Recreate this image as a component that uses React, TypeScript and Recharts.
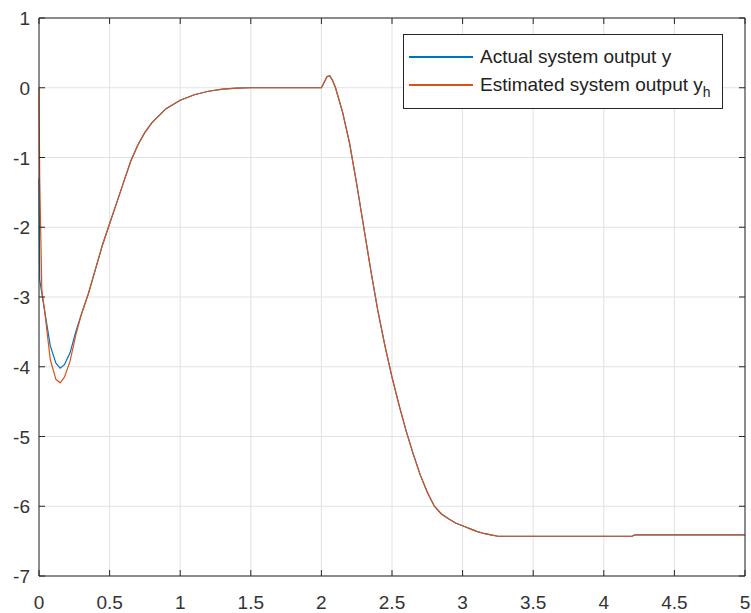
import { LineChart, Line, XAxis, YAxis, CartesianGrid } from "recharts";

const time = [
  0, 0.005, 0.02, 0.04, 0.08, 0.12, 0.15, 0.18, 0.22, 0.26, 0.3, 0.35, 0.4, 0.45, 0.5, 0.55, 0.6, 0.65, 0.7, 0.75,
  0.8, 0.9, 1.0, 1.1, 1.2, 1.3, 1.4, 1.5, 2.0, 2.02, 2.04, 2.06, 2.08, 2.1, 2.15, 2.2, 2.25, 2.3, 2.35, 2.4, 2.45,
  2.5, 2.55, 2.6, 2.65, 2.7, 2.75, 2.8, 2.85, 2.9, 2.95, 3.0, 3.05, 3.1, 3.15, 3.2, 3.25, 4.2, 4.22, 5.0,
];

const actual = [
  -1.3, -2.75, -2.95, -3.2, -3.7, -3.95, -4.02, -3.97, -3.8, -3.5, -3.25, -2.95, -2.6, -2.25, -1.95, -1.65, -1.35,
  -1.05, -0.82, -0.64, -0.5, -0.3, -0.18, -0.1, -0.05, -0.02, -0.005, 0, 0, 0.08, 0.16, 0.17, 0.1, 0, -0.35, -0.8,
  -1.38, -2.0, -2.62, -3.2, -3.7, -4.15, -4.55, -4.92, -5.25, -5.55, -5.8, -6.0, -6.11, -6.18, -6.24, -6.28, -6.32,
  -6.36, -6.39, -6.41, -6.43, -6.43, -6.41, -6.41,
];

const estimated = [
  0, -1.3, -2.9, -3.2, -3.9, -4.18, -4.23, -4.15, -3.92, -3.55, -3.25, -2.95, -2.6, -2.25, -1.95, -1.65, -1.35,
  -1.05, -0.82, -0.64, -0.5, -0.3, -0.18, -0.1, -0.05, -0.02, -0.005, 0, 0, 0.08, 0.16, 0.17, 0.1, 0, -0.35, -0.8,
  -1.38, -2.0, -2.62, -3.2, -3.7, -4.15, -4.55, -4.92, -5.25, -5.55, -5.8, -6.0, -6.11, -6.18, -6.24, -6.28, -6.32,
  -6.36, -6.39, -6.41, -6.43, -6.43, -6.41, -6.41,
];

const xTicks = [0, 0.5, 1, 1.5, 2, 2.5, 3, 3.5, 4, 4.5, 5];
const yTicks = [-7, -6, -5, -4, -3, -2, -1, 0, 1];

const data = time.map((t, i) => ({ t, actual: actual[i], estimated: estimated[i] }));

const AXIS = "#262626";
const FONT = "'Liberation Sans', Arial, sans-serif";

const BottomTick = ({ x, y, payload }: any) => (
  <g>
    <line x1={x} x2={x} y1={y} y2={y - 6} stroke={AXIS} />
    <text x={x} y={y + 33} textAnchor="middle" fontSize={19} fill="#333" fontFamily={FONT}>{payload.value}</text>
  </g>
);
const TopTick = ({ x, y }: any) => <line x1={x} x2={x} y1={y} y2={y + 6} stroke={AXIS} />;
const LeftTick = ({ x, y, payload }: any) => (
  <g>
    <line x1={x} x2={x + 6} y1={y} y2={y} stroke={AXIS} />
    <text x={x - 9} y={y + 7} textAnchor="end" fontSize={19} fill="#333" fontFamily={FONT}>{payload.value}</text>
  </g>
);
const RightTick = ({ x, y }: any) => <line x1={x} x2={x - 6} y1={y} y2={y} stroke={AXIS} />;

export default function App() {
  return (
    <div style={{ position: "absolute", left: 0, top: 0, width: 751, height: 613, background: "#fff" }}>
      <LineChart width={751} height={613} data={data} margin={{ top: 17, right: 5, left: 0, bottom: 0 }}>
        <CartesianGrid stroke="#e2e2e2" />
        <XAxis dataKey="t" type="number" domain={[0, 5]} ticks={xTicks} interval={0} height={37} stroke={AXIS}
          tickLine={false} tickSize={0} tickMargin={0} tick={<BottomTick />} />
        <XAxis xAxisId="top" orientation="top" dataKey="t" type="number" domain={[0, 5]} ticks={xTicks} interval={0}
          height={1} stroke={AXIS} tickLine={false} tickSize={0} tickMargin={0} tick={<TopTick />} />
        <YAxis type="number" domain={[-7, 1]} ticks={yTicks} interval={0} width={39} stroke={AXIS}
          tickLine={false} tickSize={0} tickMargin={0} tick={<LeftTick />} />
        <YAxis yAxisId="right" orientation="right" dataKey="actual" type="number" domain={[-7, 1]} ticks={yTicks}
          interval={0} width={1} stroke={AXIS} tickLine={false} tickSize={0} tickMargin={0} tick={<RightTick />} />
        <Line dataKey="actual" type="linear" stroke="#0072BD" strokeWidth={1.2} dot={false} isAnimationActive={false} />
        <Line dataKey="estimated" type="linear" stroke="#D95319" strokeWidth={1.2} dot={false} isAnimationActive={false} />
      </LineChart>
      <div style={{ position: "absolute", left: 403, top: 34, width: 318, height: 73, border: `1px solid ${AXIS}`,
        background: "#fff", fontFamily: FONT, fontSize: 19, color: "#222" }}>
        <div style={{ position: "absolute", left: 5, top: 21, width: 64, height: 2, background: "#0072BD" }} />
        <div style={{ position: "absolute", left: 76, top: 10, lineHeight: "24px", whiteSpace: "nowrap" }}>Actual system output y</div>
        <div style={{ position: "absolute", left: 5, top: 49, width: 64, height: 2, background: "#D95319" }} />
        <div style={{ position: "absolute", left: 76, top: 38, lineHeight: "24px", whiteSpace: "nowrap" }}>
          Estimated system output y<sub style={{ fontSize: 14, verticalAlign: "-6px" }}>h</sub>
        </div>
      </div>
    </div>
  );
}
